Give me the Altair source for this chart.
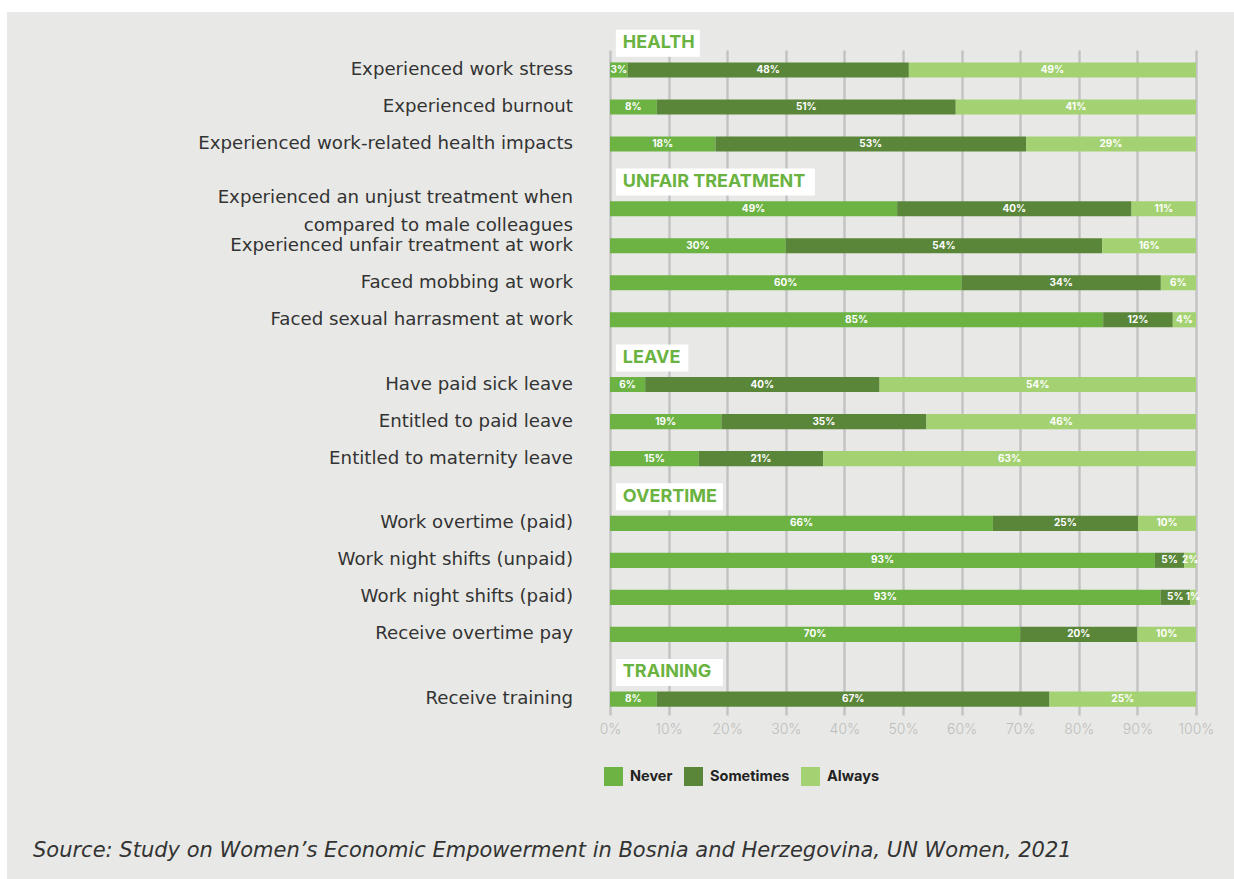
import altair as alt
import pandas as pd

# ---------------- data ----------------
groups = ["HEALTH", "UNFAIR TREATMENT", "LEAVE", "OVERTIME", "TRAINING"]
group_items = [
    ["Experienced work stress", "Experienced burnout",
     "Experienced work-related health impacts"],
    ["Experienced an unjust treatment when\ncompared to male colleagues",
     "Experienced unfair treatment at work", "Faced mobbing at work",
     "Faced sexual harrasment at work"],
    ["Have paid sick leave", "Entitled to paid leave", "Entitled to maternity leave"],
    ["Work overtime (paid)", "Work night shifts (unpaid)", "Work night shifts (paid)",
     "Receive overtime pay"],
    ["Receive training"],
]
responses = ["Never", "Sometimes", "Always"]
never = [3, 8, 18, 49, 30, 60, 85, 6, 19, 15, 66, 93, 93, 70, 8]
sometimes = [48, 51, 53, 40, 54, 34, 12, 40, 35, 21, 25, 5, 5, 20, 67]
always = [49, 41, 29, 11, 16, 6, 4, 54, 46, 63, 10, 2, 1, 10, 25]
x_ticks = [0, 10, 20, 30, 40, 50, 60, 70, 80, 90, 100]
source_text = ["Source: Study on Women\u2019s Economic Empowerment in Bosnia and Herzegovina, UN Women, 2021"]

# ---------------- styling ----------------
colors = ["#6cb344", "#5a863a", "#a4d272"]
green_text = "#6ab341"
bg = "#e8e9e6"
FONT = "Inter"
LABEL_FONT = "DejaVu Sans"
W, H = 586, 665
HEADER_GAP = 0.75      # extra row units before each section header
HEADER_OFF = 0.72      # header centre above first bar
BAR_HALF = 0.205
HEAD_HALF = 0.365
LINE_SHIFT = 0.30      # upward shift per extra label line (row units)
PX_PER_PCT = W / 100.0

# ---------------- build tables ----------------
bar_rows, label_rows, head_rows = [], [], []
p, k = 0.0, 0
for gi, (g, items) in enumerate(zip(groups, group_items)):
    if gi > 0:
        p += HEADER_GAP
    text_w = 11.5 * len(g)
    hx0 = 1.0
    head_rows.append(dict(group=g, pos=p - HEADER_OFF,
                          hx0=hx0, hx1=hx0 + (text_w + 15) / PX_PER_PCT,
                          hxt=hx0 + 7 / PX_PER_PCT))
    for item in items:
        vals = [never[k], sometimes[k], always[k]]
        tot = float(sum(vals))
        start = 0.0
        for r, v in zip(responses, vals):
            share = v / tot * 100
            bar_rows.append(dict(item=item, response=r, label=f"{v}%",
                                 x0=start, x1=start + share,
                                 mid=start + share / 2, pos=p))
            start += share
        nlines = item.count("\n") + 1
        label_rows.append(dict(item=item, ly=p - (nlines - 1) * LINE_SHIFT))
        p += 1
        k += 1

bars_df = pd.DataFrame(bar_rows)
labels_df = pd.DataFrame(label_rows)
heads_df = pd.DataFrame(head_rows)
one = pd.DataFrame({"t": source_text})

xscale = alt.Scale(domain=[0, 100], nice=False, zero=False)
yscale = alt.Scale(domain=[-0.54, 17.43], reverse=True, nice=False, zero=False)

xaxis = alt.Axis(values=x_ticks, labelExpr="datum.value + '%'", title=None,
                 grid=True, gridColor="#c3c3c3", gridWidth=2.5, domain=False,
                 ticks=False, labelPadding=7, labelColor="#bdbdbd",
                 labelFlush=False,
                 labelFont=FONT, labelFontSize=14, labelFontWeight=300)

bars = alt.Chart(bars_df).transform_calculate(
    y0=f"datum.pos - {BAR_HALF}", y1=f"datum.pos + {BAR_HALF}"
).mark_rect().encode(
    x=alt.X("x0:Q", scale=xscale, axis=xaxis),
    x2="x1:Q",
    y=alt.Y("y0:Q", scale=yscale, axis=None),
    y2="y1:Q",
    color=alt.Color("response:N",
                    scale=alt.Scale(domain=responses, range=colors),
                    legend=alt.Legend(title=None, orient="none", legendX=-6,
                                      legendY=717, direction="horizontal",
                                      symbolType="square", symbolSize=361,
                                      symbolStrokeWidth=0, symbolOpacity=1,
                                      labelFont=FONT, labelFontWeight="bold",
                                      labelFontSize=14.5, labelColor="#222222",
                                      labelOffset=7, columnPadding=11)),
)

values = alt.Chart(bars_df).mark_text(
    font=FONT, fontWeight="bold", fontSize=10, color="white", baseline="middle"
).encode(x=alt.X("mid:Q", scale=xscale), y=alt.Y("pos:Q", scale=yscale),
         text="label:N")

item_labels = alt.Chart(labels_df).mark_text(
    align="right", baseline="middle", dx=-37, font=LABEL_FONT, fontSize=18.2,
    color="#333333", lineBreak="\n", lineHeight=28
).encode(x=alt.datum(0), y=alt.Y("ly:Q", scale=yscale), text="item:N")

head_box = alt.Chart(heads_df).transform_calculate(
    y0=f"datum.pos - {HEAD_HALF}", y1=f"datum.pos + {HEAD_HALF}"
).mark_rect(color="white").encode(
    x=alt.X("hx0:Q", scale=xscale), x2="hx1:Q",
    y=alt.Y("y0:Q", scale=yscale), y2="y1:Q")

head_text = alt.Chart(heads_df).mark_text(
    align="left", baseline="middle", font=FONT, fontWeight="bold",
    fontSize=18, color=green_text
).encode(x=alt.X("hxt:Q", scale=xscale), y=alt.Y("pos:Q", scale=yscale),
         text="group:N")

src = alt.Chart(one).mark_text(
    align="left", baseline="alphabetic", font=LABEL_FONT, fontStyle="italic",
    fontSize=21, color="#333333"
).encode(text="t:N", x=alt.value(-577), y=alt.value(807))

strip_left = alt.Chart(one).mark_rect(color="white").encode(
    x=alt.value(-610), x2=alt.value(-603), y=alt.value(-50), y2=alt.value(829))
strip_top = alt.Chart(one).mark_rect(color="white").encode(
    x=alt.value(-610), x2=alt.value(624), y=alt.value(-50), y2=alt.value(-38))

chart = alt.layer(
    strip_left, strip_top, bars, values, item_labels, head_box, head_text, src
).properties(
    width=W, height=H,
    autosize=alt.AutoSizeParams(type="none"),
    padding={"left": 610, "top": 50, "right": 38, "bottom": 164},
    background=bg,
).configure_view(stroke=None)

chart.save("out.html", embed_options={"renderer": "svg", "actions": False})
